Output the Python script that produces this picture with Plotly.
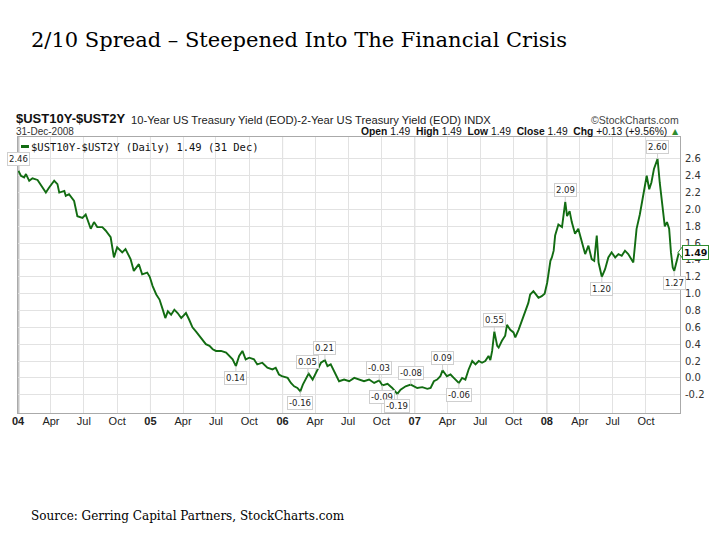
import plotly.graph_objects as go

# ---------------- data ----------------
dates = [
    "2004-01-02", "2004-01-09", "2004-01-18", "2004-01-23", "2004-02-01", "2004-02-10", "2004-02-24",
    "2004-03-09", "2004-03-18", "2004-03-27", "2004-04-10", "2004-04-19", "2004-04-24", "2004-05-08",
    "2004-05-12", "2004-05-21", "2004-06-04", "2004-06-13", "2004-06-27", "2004-07-06", "2004-07-20",
    "2004-07-29", "2004-08-07", "2004-08-21", "2004-08-30", "2004-09-13", "2004-09-22", "2004-10-01",
    "2004-10-15", "2004-10-24", "2004-11-07", "2004-11-16", "2004-11-30", "2004-12-09", "2004-12-23",
    "2004-12-30",
    "2005-01-07", "2005-01-17", "2005-01-26", "2005-02-04", "2005-02-11", "2005-02-18", "2005-02-27",
    "2005-03-08", "2005-03-17", "2005-03-27", "2005-04-09", "2005-04-18", "2005-04-27", "2005-05-07",
    "2005-05-16", "2005-05-25", "2005-06-03", "2005-06-13", "2005-06-22", "2005-07-01", "2005-07-15",
    "2005-07-29", "2005-08-07", "2005-08-16", "2005-08-25", "2005-09-03", "2005-09-12", "2005-09-21",
    "2005-10-01", "2005-10-14", "2005-10-23", "2005-11-06", "2005-11-20", "2005-12-04", "2005-12-13",
    "2005-12-22", "2005-12-30",
    "2006-01-15", "2006-01-24", "2006-02-02", "2006-02-11", "2006-02-19", "2006-02-26", "2006-03-07",
    "2006-03-14", "2006-03-25", "2006-04-03", "2006-04-17", "2006-04-28", "2006-05-05", "2006-05-14",
    "2006-05-24", "2006-06-06", "2006-06-20", "2006-07-04", "2006-07-18", "2006-08-01", "2006-08-14",
    "2006-08-28", "2006-09-11", "2006-09-25", "2006-10-04", "2006-10-18", "2006-10-31", "2006-11-14",
    "2006-11-23", "2006-12-07", "2006-12-21",
    "2007-01-08", "2007-01-22", "2007-02-05", "2007-02-14", "2007-02-23", "2007-03-04", "2007-03-13",
    "2007-03-19", "2007-03-31", "2007-04-10", "2007-04-19", "2007-04-28", "2007-05-03", "2007-05-12",
    "2007-05-21", "2007-05-30", "2007-06-09", "2007-06-18", "2007-06-27", "2007-07-06", "2007-07-15",
    "2007-07-24", "2007-07-29", "2007-08-03", "2007-08-09", "2007-08-17", "2007-08-21", "2007-08-30",
    "2007-09-08", "2007-09-13", "2007-09-22", "2007-10-01", "2007-10-06", "2007-10-15", "2007-10-20",
    "2007-10-29", "2007-11-02", "2007-11-11", "2007-11-16", "2007-11-25", "2007-12-04", "2007-12-09",
    "2007-12-18", "2007-12-26",
    "2008-01-02", "2008-01-06", "2008-01-11", "2008-01-15", "2008-01-20", "2008-01-24", "2008-02-02",
    "2008-02-12", "2008-02-21", "2008-02-26", "2008-03-04", "2008-03-10", "2008-03-19", "2008-03-28",
    "2008-04-07", "2008-04-16", "2008-04-25", "2008-05-04", "2008-05-11", "2008-05-18", "2008-05-23",
    "2008-06-01", "2008-06-10", "2008-06-19", "2008-06-28", "2008-07-08", "2008-07-17", "2008-07-26",
    "2008-08-04", "2008-08-13", "2008-08-27", "2008-09-05", "2008-09-14", "2008-09-23", "2008-10-03",
    "2008-10-10", "2008-10-16", "2008-10-23", "2008-10-29", "2008-11-02", "2008-11-08", "2008-11-15",
    "2008-11-22", "2008-11-28", "2008-12-04", "2008-12-09", "2008-12-14", "2008-12-18", "2008-12-24",
    "2008-12-31",
]
spread = [
    2.46, 2.40, 2.38, 2.42, 2.34, 2.37, 2.35,
    2.26, 2.20, 2.26, 2.34, 2.30, 2.20, 2.22,
    2.16, 2.18, 2.10, 1.92, 1.90, 1.94, 1.77,
    1.85, 1.79, 1.79, 1.75, 1.67, 1.43, 1.55,
    1.49, 1.53, 1.41, 1.27, 1.35, 1.23, 1.25,
    1.20,
    1.09, 0.99, 0.93, 0.81, 0.71, 0.79, 0.75,
    0.81, 0.77, 0.71, 0.77, 0.69, 0.60, 0.55,
    0.50, 0.46, 0.40, 0.38, 0.34, 0.32, 0.32,
    0.30, 0.26, 0.22, 0.14, 0.26, 0.32, 0.22,
    0.24, 0.22, 0.16, 0.18, 0.12, 0.10, 0.12,
    0.04, 0.02,
    0.00, -0.06, -0.10, -0.12, -0.16, -0.08, 0.00,
    0.05, -0.02, 0.06, 0.18, 0.21, 0.14, 0.16,
    0.08, -0.04, -0.02, -0.04, 0.00, -0.02, -0.04,
    -0.02, -0.06, -0.03, -0.09, -0.07, -0.12, -0.19,
    -0.14, -0.10, -0.08,
    -0.12, -0.11, -0.13, -0.12, -0.04, -0.02, 0.02,
    0.09, 0.02, 0.04, 0.00, -0.04, -0.06, 0.00,
    -0.02, 0.10, 0.20, 0.16, 0.20, 0.18, 0.20,
    0.26, 0.21, 0.32, 0.55, 0.38, 0.36, 0.44,
    0.50, 0.63, 0.57, 0.54, 0.48, 0.57, 0.63,
    0.73, 0.80, 0.89, 0.99, 1.03, 0.98, 0.95,
    0.97, 1.00,
    1.13, 1.23, 1.39, 1.43, 1.51, 1.69, 1.82,
    1.79, 2.09, 1.92, 1.98, 1.85, 1.71, 1.77,
    1.61, 1.47, 1.57, 1.41, 1.39, 1.69, 1.37,
    1.20, 1.29, 1.43, 1.49, 1.43, 1.47, 1.45,
    1.51, 1.47, 1.37, 1.77, 1.94, 2.16, 2.40,
    2.24, 2.32, 2.48, 2.56, 2.60, 2.32, 2.04,
    1.80, 1.85, 1.77, 1.49, 1.31, 1.27, 1.38,
    1.49,
]

label_dates = ["2004-01-02", "2005-08-25", "2006-02-19", "2006-03-12", "2006-04-28", "2006-09-25",
               "2006-10-04", "2006-11-14", "2006-12-21", "2007-03-19", "2007-05-03", "2007-08-09",
               "2008-02-21", "2008-06-01", "2008-11-02", "2008-12-18"]
label_values = [2.46, 0.14, -0.16, 0.05, 0.21, -0.03, -0.09, -0.19, -0.08, 0.09, -0.06, 0.55,
                2.09, 1.20, 2.60, 1.27]
label_side = ["above", "below", "below", "above", "above", "above", "below", "below", "above",
              "above", "below", "above", "above", "below", "above", "below"]

tick_dates = ["2004-01-01", "2004-04-01", "2004-07-01", "2004-10-01",
              "2005-01-01", "2005-04-01", "2005-07-01", "2005-10-01",
              "2006-01-01", "2006-04-01", "2006-07-01", "2006-10-01",
              "2007-01-01", "2007-04-01", "2007-07-01", "2007-10-01",
              "2008-01-01", "2008-04-01", "2008-07-01", "2008-10-01"]
tick_labels = ["04", "Apr", "Jul", "Oct", "05", "Apr", "Jul", "Oct", "06", "Apr", "Jul", "Oct",
               "07", "Apr", "Jul", "Oct", "08", "Apr", "Jul", "Oct"]
y_ticks = [-0.2, 0.0, 0.2, 0.4, 0.6, 0.8, 1.0, 1.2, 1.4, 1.6, 1.8, 2.0, 2.2, 2.4, 2.6]
last_value = 1.49

# ---------------- figure ----------------
GREEN = "#126c12"
GRID = "#e2e2e2"
L, R, T, B = 16, 40, 137, 127
W, H = 720, 540
PW, PH = W - L - R, H - T - B


def px(x):
    return (x - L) / PW


def py(y):
    return (H - B - y) / PH


fig = go.Figure()
fig.add_trace(go.Scatter(x=dates, y=spread, mode="lines",
                         line=dict(color=GREEN, width=1.9), showlegend=False,
                         hoverinfo="skip"))

ticktext = ["<b>%s</b>" % t if t.isdigit() else t for t in tick_labels]

fig.update_layout(
    width=W, height=H,
    margin=dict(l=L, r=R, t=T, b=B, pad=0),
    paper_bgcolor="white", plot_bgcolor="white",
    showlegend=False,
    xaxis=dict(type="date", range=["2004-01-01", "2009-01-03"],
               tickmode="array", tickvals=tick_dates, ticktext=ticktext,
               showgrid=True, gridcolor=GRID, gridwidth=1,
               showline=True, linecolor="#aaaaaa", linewidth=1, mirror=True,
               ticks="", zeroline=False, ticklabelstandoff=-2,
               tickfont=dict(family="Liberation Sans Narrow, Arial Narrow, Liberation Sans",
                             size=11, color="#222222")),
    yaxis=dict(side="right", range=[-0.417, 2.86],
               tickmode="array", tickvals=y_ticks,
               ticktext=["%.1f" % v for v in y_ticks],
               showgrid=True, gridcolor=GRID, gridwidth=1,
               showline=True, linecolor="#aaaaaa", linewidth=1, mirror=True,
               ticks="", zeroline=False, ticklabelstandoff=2,
               tickfont=dict(family="DejaVu Sans", size=10, color="#333333")),
)

# darker year separators and thick left edge
for d, t in zip(tick_dates, tick_labels):
    if t.isdigit():
        first = d == tick_dates[0]
        fig.add_shape(type="line", xref="x", yref="paper", x0=d, x1=d, y0=0, y1=1,
                      line=dict(color="#c6c6c6" if first else "#b8b8b8", width=3 if first else 1),
                      layer="below")

# extreme-value labels
for d, v, s in zip(label_dates, label_values, label_side):
    fig.add_annotation(x=d, y=v, xref="x", yref="y", text="%.2f" % v,
                       showarrow=True, arrowhead=0, arrowwidth=1, arrowcolor="#cfcfcf",
                       ax=0, ay=-12 if s == "above" else 12,
                       bgcolor="white", bordercolor="#cfcfcf", borderwidth=1, borderpad=1,
                       font=dict(family="DejaVu Sans", size=8.5, color="#222222"))

# current value tag on the right axis
fig.add_shape(type="path", xref="paper", yref="y",
              path="M 0.997 %.3f L 1.005 %.3f L 1.005 %.3f Z" % (last_value, last_value + 0.08, last_value - 0.08),
              fillcolor="white", line=dict(color="#2e8b2e", width=1))
fig.add_annotation(x=1.0, y=last_value, xref="paper", yref="y", text="<b>%.2f</b>" % last_value,
                   showarrow=False, xanchor="left", xshift=2,
                   bgcolor="white", bordercolor="#2e8b2e", borderwidth=1, borderpad=1,
                   font=dict(family="DejaVu Sans", size=9.5, color="#111111"))

# legend line sample
fig.add_shape(type="line", xref="paper", yref="paper", x0=px(19), x1=px(27), y0=py(146.5), y1=py(146.5),
              line=dict(color=GREEN, width=3))

texts = [
    dict(x=px(27), y=py(40), text="2/10 Spread \u2013 Steepened Into The Financial Crisis",
         xanchor="left", font=dict(family="DejaVu Serif", size=21, color="#000000")),
    dict(x=px(12), y=py(119), text="<b>$UST10Y-$UST2Y</b>", xanchor="left",
         font=dict(family="Liberation Sans", size=13, color="#111111")),
    dict(x=px(127), y=py(120), text="10-Year US Treasury Yield (EOD)-2-Year US Treasury Yield (EOD) INDX",
         xanchor="left", font=dict(family="Liberation Sans", size=11.2, color="#222222")),
    dict(x=px(681), y=py(120), text="\u00a9StockCharts.com", xanchor="right",
         font=dict(family="Liberation Sans", size=10.5, color="#444444")),
    dict(x=px(12), y=py(131.5), text="31-Dec-2008", xanchor="left",
         font=dict(family="Liberation Sans", size=10, color="#333333")),
    dict(x=px(682), y=py(131.5),
         text="<b>Open</b> 1.49  <b>High</b> 1.49  <b>Low</b> 1.49  <b>Close</b> 1.49  <b>Chg</b> +0.13 (+9.56%) "
              "<span style='color:#2e8b2e'>\u25b2</span>",
         xanchor="right", font=dict(family="Liberation Sans", size=10.3, color="#111111")),
    dict(x=px(27), y=py(146.5), text="$UST10Y-$UST2Y (Daily) 1.49 (31 Dec)", xanchor="left",
         font=dict(family="DejaVu Sans Mono", size=10.5, color="#111111")),
    dict(x=px(27), y=py(516), text="Source: Gerring Capital Partners, StockCharts.com",
         xanchor="left", font=dict(family="DejaVu Serif", size=12, color="#000000")),
]
for t in texts:
    fig.add_annotation(xref="paper", yref="paper", showarrow=False, yanchor="middle", **t)

fig.write_html("out.html", config={"displayModeBar": False},
               post_script="document.body.style.margin='0px';")
